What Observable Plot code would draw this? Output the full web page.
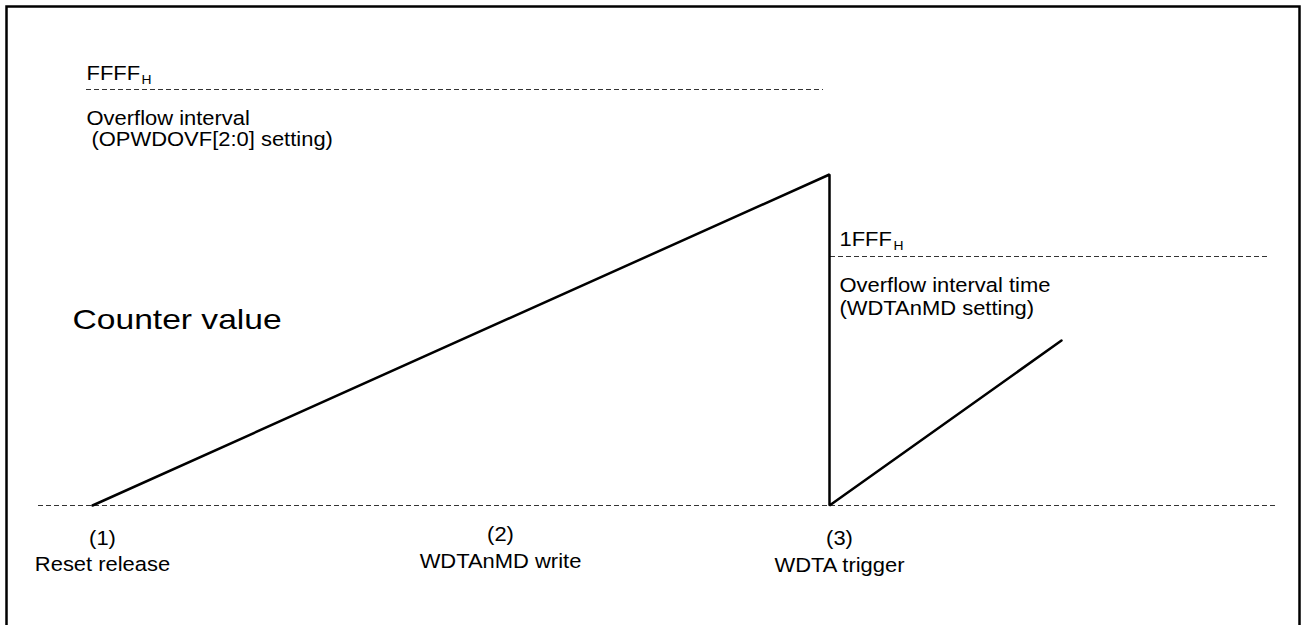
<!DOCTYPE html>
<html>
<head>
<meta charset="utf-8">
<script src="https://cdn.jsdelivr.net/npm/d3@7"></script>
<script src="https://cdn.jsdelivr.net/npm/@observablehq/plot@0.6"></script>
<style>
  html, body { margin: 0; padding: 0; background: #fff; }
  svg text { font-family: "Liberation Sans", Arial, sans-serif; }
</style>
</head>
<body>
<script>
// ---- Data (diagram units: time t, counter level v) ----
const counterTimes  = [92, 829, 829, 1061];
const counterValues = [0, 331, 0, 165];

const levelNames  = ["FFFF", "1FFF"];
const levelValues = [416, 249];
const levelStart  = [86, 830];
const levelEnd    = [823, 1270];

const eventNumbers = ["(1)", "(2)", "(3)"];
const eventNames   = ["Reset release", "WDTAnMD write", "WDTA trigger"];
const eventTimes   = [92, 490, 829];

const baselineStart = 38;
const baselineEnd   = 1275;

// ---- Tables built from the arrays ----
const counter = counterTimes.map((t, i) => ({t, v: counterValues[i]}));
const levels = levelNames.map((name, i) => ({name, v: levelValues[i], t1: levelStart[i], t2: levelEnd[i]}));
const events = eventNumbers.map((num, i) => ({num, name: eventNames[i], t: eventTimes[i]}));

// annotation placements
const levelLabels = [
  {text: "FFFF", t: 86, v: 426},
  {text: "1FFF", t: 839, v: 260}
];
const levelSubs = [
  {text: "H", t: 141, v: 422},
  {text: "H", t: 893, v: 256}
];
const notes = [
  {text: "Overflow interval", t: 86, v: 381},
  {text: "(OPWDOVF[2:0] setting)", t: 91, v: 360},
  {text: "Overflow interval time", t: 839, v: 214},
  {text: "(WDTAnMD setting)", t: 839, v: 191}
];
const numOffsets  = [-39, -35, -39];
const nameOffsets = [-65, -62, -66];
const eventNums = events.map((e, i) => ({text: e.num, t: e.t, v: numOffsets[i]}));
const eventLbls = events.map((e, i) => ({text: e.name, t: e.t, v: nameOffsets[i]}));

const chart = Plot.plot({
  width: 1301,
  height: 625,
  margin: 0,
  x: {domain: [0, 1301], range: [0, 1301], axis: null},
  y: {domain: [505, -120], range: [0, 625], axis: null},
  style: {fontFamily: "'Liberation Sans', Arial, sans-serif", background: "#fff"},
  marks: [
    Plot.frame({stroke: "#000", strokeWidth: 2.5, strokeOpacity: 1, insetLeft: 6, insetTop: 6, insetRight: 2, insetBottom: -20}),
    // baseline
    Plot.ruleY([0], {x1: baselineStart, x2: baselineEnd, stroke: "#333", strokeWidth: 1, strokeDasharray: "5,3"}),
    // overflow levels
    Plot.ruleY(levels, {y: "v", x1: "t1", x2: "t2", stroke: "#333", strokeWidth: 1, strokeDasharray: "5,3"}),
    // counter
    Plot.line(counter, {x: "t", y: "v", stroke: "#000", strokeWidth: 2.5, strokeLinejoin: "miter"}),
    // texts
    Plot.text(levelLabels, {x: "t", y: "v", text: "text", textAnchor: "start", lineAnchor: "bottom", fontSize: 20.5, fill: "#000"}),
    Plot.text(levelSubs, {x: "t", y: "v", text: "text", textAnchor: "start", lineAnchor: "bottom", fontSize: 13, fill: "#000"}),
    Plot.text(notes, {x: "t", y: "v", text: "text", textAnchor: "start", lineAnchor: "bottom", fontSize: 20.5, fill: "#000"}),
    Plot.text(["Counter value"], {x: () => 72, y: () => 177, text: d => d, textAnchor: "start", lineAnchor: "bottom", fontSize: 28, fill: "#000"}),
    Plot.text(eventNums, {x: "t", y: "v", text: "text", dx: 10, textAnchor: "middle", lineAnchor: "bottom", fontSize: 20.5, fill: "#000"}),
    Plot.text(eventLbls, {x: "t", y: "v", text: "text", dx: 10, textAnchor: "middle", lineAnchor: "bottom", fontSize: 20.5, fill: "#000"})
  ]
});
document.body.appendChild(chart);

// the reference glyphs are stretched horizontally
chart.querySelectorAll("text").forEach(el => {
  if (el.querySelector("tspan")) return;
  const f = el.textContent === "Counter value" ? 1.2 : 1.07;
  const len = el.getComputedTextLength();
  if (len > 0) {
    el.setAttribute("textLength", (len * f).toFixed(1));
    el.setAttribute("lengthAdjust", "spacingAndGlyphs");
  }
});
</script>
</body>
</html>
